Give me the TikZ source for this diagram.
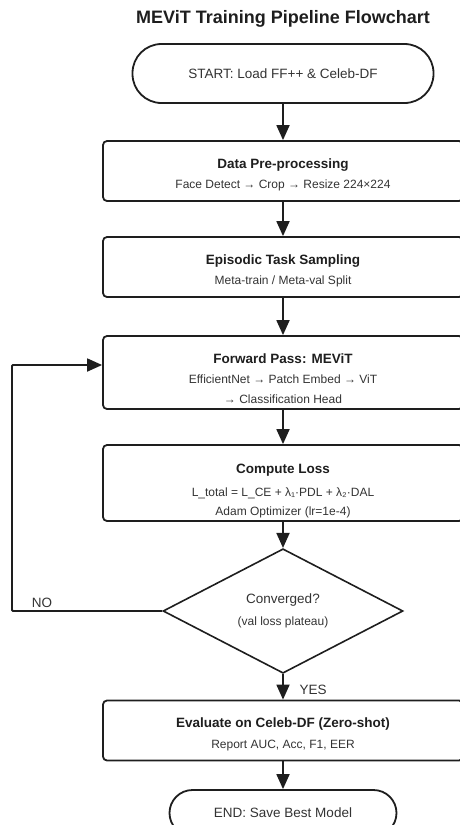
\documentclass[tikz,border=0pt]{standalone}
\usepackage{fontspec}
\setmainfont{Liberation Sans}
\usetikzlibrary{arrows.meta,shapes.geometric}
\definecolor{ink}{HTML}{1E1E1E}
\definecolor{txt}{HTML}{333333}
% box title, optional strut height to push the text down
\newcommand{\ttl}[2][17pt]{{\rule{0pt}{#1}\fontsize{13.5}{20.5}\selectfont\bfseries\color{ink}#2}}

\begin{document}
\begin{tikzpicture}[x=1pt,y=-1pt,
  every node/.style={font=\fontsize{12}{20.5}\selectfont,text=txt},
  procbox/.style={draw=ink,line width=1.8pt,rounded corners=4pt,minimum width=360pt,inner sep=0pt,align=center},
  termbox/.style={draw=ink,line width=1.8pt,inner sep=0pt,font=\fontsize{13.5}{16}\selectfont},
  decbox/.style={draw=ink,line width=1.6pt,diamond,minimum width=240pt,minimum height=102pt,inner sep=0pt,align=center},
  flow/.style={draw=ink,line width=1.8pt,-{Triangle[length=15pt,width=13pt]}}]
\useasboundingbox (0,0) rectangle (460,825);
\node (title) at (283,19) {\fontsize{18}{20}\selectfont\bfseries\color{ink}MEViT Training Pipeline Flowchart};
\node[termbox,minimum width=301pt,minimum height=59pt,rounded corners=29pt] (start) at (283,73.5) {START: Load FF++ \& Celeb-DF};
\node[procbox,minimum height=60pt] (prep) at (283,171) {\ttl{Data Pre-processing}\\Face Detect → Crop → Resize 224×224};
\node[procbox,minimum height=60pt] (epi) at (283,267) {\ttl{Episodic Task Sampling}\\Meta-train / Meta-val Split};
\node[procbox,minimum height=73pt] (fwd) at (283,372.5) {\ttl[22pt]{Forward Pass: MEViT}\\EfficientNet → Patch Embed → ViT\\[-1pt]→ Classification Head};
\node[procbox,minimum height=76pt] (loss) at (283,483) {\ttl[26pt]{Compute Loss}\\[2.5pt]L\_total = L\_CE + λ₁·PDL + λ₂·DAL\\[-1.5pt]Adam Optimizer (lr=1e-4)};
\node[decbox] (conv) at (283,611) {{\fontsize{13.5}{20.5}\selectfont Converged?}\\[1pt](val loss plateau)};
\node[procbox,minimum height=60pt] (eval) at (283,730.5) {\ttl{Evaluate on Celeb-DF (Zero-shot)}\\Report AUC, Acc, F1, EER};
\node[termbox,minimum width=227pt,minimum height=46pt,rounded corners=23pt] (stop) at (283,813) {END: Save Best Model};
\coordinate (back) at (12,611);
\draw[flow] (start) -- (prep);
\draw[flow] (prep) -- (epi);
\draw[flow] (epi) -- (fwd);
\draw[flow] (fwd) -- (loss);
\draw[flow] (loss) -- (conv);
\draw[flow] (conv) -- node[right=12.5pt,pos=0.6,font=\fontsize{13.5}{16}\selectfont] (yes) {YES} (eval);
\draw[flow,rounded corners=1pt] (conv.west) -- (back) |- ([yshift=7.5pt]fwd.west);
\node[font=\fontsize{13.5}{16}\selectfont] (no) at (42,603) {NO};
\draw[flow] (eval) -- (stop);
\end{tikzpicture}
\end{document}
